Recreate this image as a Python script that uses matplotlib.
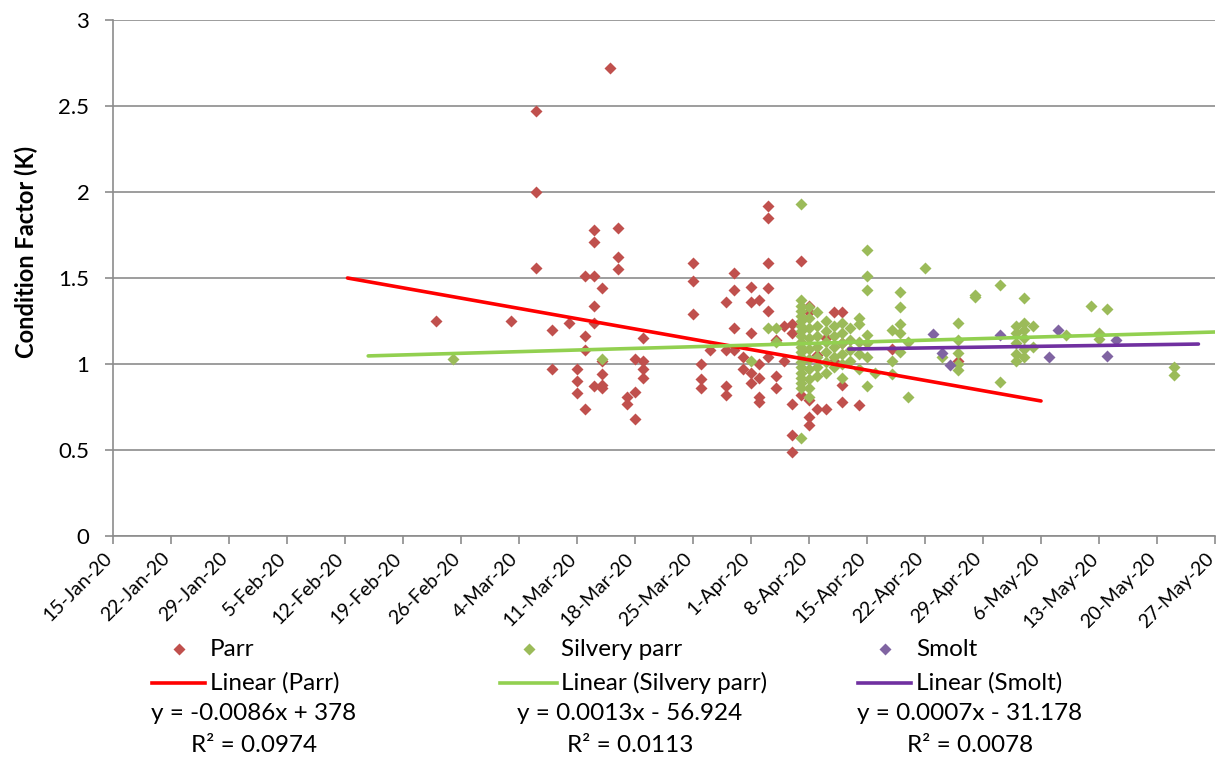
import matplotlib
matplotlib.use("Agg")
import matplotlib.pyplot as plt
from matplotlib.lines import Line2D
import pandas as pd

plt.rcParams['font.family'] = ['Lato', 'DejaVu Sans']

start = pd.Timestamp("2020-01-15")

# sampling day (days after 15-Jan-20) -> condition factor K values on that day
parr_days = [39, 48, 51, 53, 55, 56, 57, 58, 59, 60, 61, 62, 63, 64, 70, 71, 72,
             74, 75, 76, 77, 78, 79, 80, 81, 82, 83, 84, 85, 86, 87, 88, 90, 94, 102]
parr_k = [[1.25], [1.25], [2.47, 2.00, 1.56], [1.20, 0.97], [1.24],
          [0.97, 0.90, 0.83], [1.51, 1.16, 1.08, 0.74],
          [1.78, 1.71, 1.51, 1.34, 1.24, 0.87], [1.44, 1.02, 0.94, 0.88, 0.86],
          [2.72], [1.79, 1.62, 1.55], [0.81, 0.77], [1.03, 0.84, 0.68],
          [1.15, 1.02, 0.97, 0.92], [1.59, 1.48, 1.29], [1.00, 0.91, 0.86], [1.08],
          [1.36, 1.08, 0.87, 0.82], [1.53, 1.43, 1.21, 1.08], [1.04, 0.97],
          [1.45, 1.36, 1.18, 0.95, 0.89], [1.37, 1.00, 0.92, 0.81, 0.78],
          [1.92, 1.85, 1.59, 1.44, 1.31, 1.04], [1.14, 0.93, 0.86], [1.22, 1.02],
          [1.23, 1.18, 0.77, 0.59, 0.49], [1.60, 0.82],
          [1.34, 1.30, 0.79, 0.69, 0.645], [1.05, 0.74], [1.15, 0.74], [1.30, 1.02],
          [1.30, 1.12, 0.88, 0.78], [0.76], [1.09], [1.02]]

silvery_days = [41, 59, 77, 79, 80, 83, 84, 85, 86, 87, 88, 89, 90, 91, 92, 94, 95,
                96, 98, 100, 102, 104, 107, 109, 110, 111, 115, 118, 119, 120, 128]
silvery_k = [[1.03], [1.03], [1.02], [1.21], [1.21, 1.13],
             [1.93, 1.37, 1.34, 1.31, 1.28, 1.25, 1.22, 1.19, 1.16, 1.13, 1.10, 1.07,
              1.04, 1.01, 0.98, 0.95, 0.92, 0.89, 0.86, 0.57],
             [1.33, 1.27, 1.21, 1.15, 1.09, 1.03, 0.97, 0.91, 0.86, 0.81],
             [1.30, 1.22, 1.16, 1.10, 1.04, 0.98, 0.93],
             [1.25, 1.19, 1.13, 1.07, 1.01, 0.95],
             [1.22, 1.16, 1.10, 1.04, 0.98],
             [1.24, 1.18, 1.12, 1.06, 1.00, 0.92],
             [1.21, 1.14, 1.08, 1.02],
             [1.27, 1.23, 1.13, 1.06, 0.97],
             [1.66, 1.51, 1.43, 1.17, 1.12, 1.04, 0.87],
             [0.95], [1.20, 1.02, 0.94], [1.42, 1.33, 1.23, 1.18, 1.07], [1.13, 0.81],
             [1.56], [1.04], [1.24, 1.14, 1.065, 1.00, 0.965], [1.40, 1.39],
             [1.46, 0.895], [1.22, 1.18, 1.12, 1.06, 1.02],
             [1.385, 1.24, 1.20, 1.15, 1.09, 1.04], [1.22, 1.10], [1.17], [1.34],
             [1.18, 1.145], [1.32], [0.985, 0.935]]

smolt_days = [99, 100, 101, 107, 113, 114, 120, 121]
smolt_k = [[1.175], [1.065], [0.995], [1.17], [1.04], [1.20], [1.045], [1.14]]

# linear trend lines (start/end as shown)
parr_trend_days = [28.3, 112]
parr_trend_k = [1.50, 0.785]
silvery_trend_days = [30.8, 133]
silvery_trend_k = [1.047, 1.186]
smolt_trend_days = [88.8, 131]
smolt_trend_k = [1.087, 1.116]

series_names = ["Parr", "Silvery parr", "Smolt"]
equations = ["y = -0.0086x + 378", "y = 0.0013x - 56.924", "y = 0.0007x - 31.178"]
r2_values = ["0.0974", "0.0113", "0.0078"]

tick_days = list(range(0, 134, 7))


def expand(days, groups):
    xs, ys = [], []
    for d, vals in zip(days, groups):
        for v in vals:
            xs.append(start + pd.Timedelta(days=d))
            ys.append(v)
    return xs, ys


def to_dates(days):
    return [start + pd.Timedelta(days=d) for d in days]


marker_colors = ["#C0504D", "#9BBB59", "#8064A2"]
line_colors = ["#FF0000", "#92D050", "#7030A0"]
grid_c = "#8C8C8C"

fig = plt.figure(figsize=(12.2, 7.58), dpi=100)
ax = fig.add_axes([113 / 1220, 1 - 536 / 758, 1102 / 1220, 516 / 758])

for days, groups, c in zip([parr_days, silvery_days, smolt_days],
                           [parr_k, silvery_k, smolt_k], marker_colors):
    xs, ys = expand(days, groups)
    ax.plot(xs, ys, linestyle="none", marker="D", ms=6.5, color=c, mec="none", zorder=3)

for tdays, tk, c in zip([parr_trend_days, silvery_trend_days, smolt_trend_days],
                        [parr_trend_k, silvery_trend_k, smolt_trend_k], line_colors):
    ax.plot(to_dates(tdays), tk, color=c, lw=2.6, solid_capstyle="round", zorder=4)

ax.set_ylim(0, 3)
ax.set_yticks([0, 0.5, 1, 1.5, 2, 2.5, 3])
ax.set_yticklabels(["0", "0.5", "1", "1.5", "2", "2.5", "3"])
ax.set_xlim(start, start + pd.Timedelta(days=133))
ticks = to_dates(tick_days)
ax.set_xticks(ticks)
ax.set_xticklabels([f"{t.day}-{t:%b-%y}" for t in ticks], rotation=45,
                   ha="right", va="baseline", rotation_mode="anchor")

ax.yaxis.grid(True, color=grid_c, lw=1.2)
ax.set_axisbelow(True)
for s in ["top", "right"]:
    ax.spines[s].set_visible(False)
for s in ["left", "bottom"]:
    ax.spines[s].set_color(grid_c)
    ax.spines[s].set_linewidth(1.2)
ax.tick_params(axis="y", direction="out", length=6, width=1.2, color=grid_c,
               labelsize=16, pad=11)
ax.tick_params(axis="x", direction="out", length=6, width=1.2, color=grid_c,
               labelsize=14, pad=11)

ax.set_ylabel("Condition Factor (K)", fontsize=17, fontweight="bold")
ax.yaxis.set_label_coords(-0.068, 0.55)


def fx(px):
    return px / 1220


def fy(py):
    return 1 - py / 758


# legend and trendline labels below the plot
line_x = [(152, 205), (500, 557), (858, 911)]
text_x = [210, 561, 916]
eq_x = [254, 630, 970]
for i in range(3):
    x0, x1 = line_x[i]
    mid = (x0 + x1) / 2
    fig.add_artist(Line2D([fx(mid)], [fy(649)], marker="D", ms=6.5,
                          color=marker_colors[i], mec="none", linestyle="none"))
    fig.text(fx(text_x[i]), fy(649), series_names[i], fontsize=17.5, va="center")
    fig.add_artist(Line2D([fx(x0), fx(x1)], [fy(683), fy(683)],
                          color=line_colors[i], lw=2.6))
    fig.text(fx(text_x[i]), fy(683), f"Linear ({series_names[i]})", fontsize=17.5,
             va="center")
    fig.text(fx(eq_x[i]), fy(714), equations[i], fontsize=17.5, va="center",
             ha="center")
    fig.text(fx(eq_x[i]), fy(745), f"R² = {r2_values[i]}", fontsize=17.5,
             va="center", ha="center")

fig.savefig("out.png", dpi=100)
